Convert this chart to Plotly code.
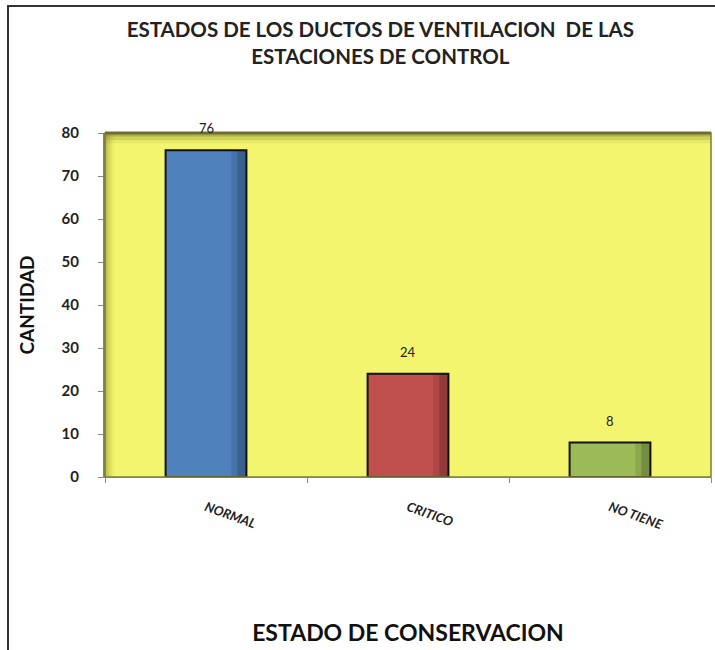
import plotly.graph_objects as go

categories = ["NORMAL", "CRITICO", "NO TIENE"]
values = [76, 24, 8]
bar_colors = ["#4F81BD", "#C0504D", "#9BBB59"]
y_ticks = [0, 10, 20, 30, 40, 50, 60, 70, 80]

FONT = "Lato, 'Open Sans', Arial, sans-serif"

fig = go.Figure()
fig.add_trace(go.Bar(
    x=categories, y=values,
    marker=dict(color=bar_colors, line=dict(width=0)),
    width=0.4, offset=-0.2,
    showlegend=False, hoverinfo="skip",
))
# right-side shading of each bar
fig.add_trace(go.Bar(
    x=categories, y=values, width=0.075, offset=0.125,
    marker=dict(color="rgba(0,0,0,0.10)", line=dict(width=0)),
    showlegend=False, hoverinfo="skip",
))
fig.add_trace(go.Bar(
    x=categories, y=values, width=0.045, offset=0.155,
    marker=dict(color="rgba(0,0,0,0.16)", line=dict(width=0)),
    showlegend=False, hoverinfo="skip",
))
# outline
fig.add_trace(go.Bar(
    x=categories, y=values, width=0.4, offset=-0.2,
    marker=dict(color="rgba(0,0,0,0)", line=dict(color="#111111", width=2)),
    showlegend=False,
))

for c, v in zip(categories, values):
    fig.add_annotation(x=c, y=v, text=str(v), showarrow=False, yshift=22,
                       font=dict(family=FONT, size=13, color="#222222"))

fig.update_layout(
    width=715, height=650,
    margin=dict(l=105, r=4, t=133, b=173, autoexpand=False),
    paper_bgcolor="white",
    plot_bgcolor="#F3F56E",
    font=dict(family=FONT, color="#222222"),
    title=dict(
        text="<b>ESTADOS DE LOS DUCTOS DE VENTILACION  DE LAS<br>ESTACIONES DE CONTROL</b>",
        x=0.532, xanchor="center", y=0.943, yanchor="top", yref="container",
        font=dict(family=FONT, size=20.5, color="#222222"),
    ),
    barmode="overlay",
)

fig.update_yaxes(
    range=[0, 80], tickvals=y_ticks, ticks="outside", ticklen=5, tickcolor="#888888",
    showgrid=False, zeroline=False, showline=True, linecolor="#8A8A40", linewidth=2,
    automargin=False, ticklabelstandoff=16,
    tickfont=dict(family=FONT, size=15, color="#222222", weight="bold"),
    title=dict(text="<b>CANTIDAD</b>", font=dict(family=FONT, size=19, color="#111111"), standoff=22),
)
fig.update_xaxes(
    ticks="outside", tickson="boundaries", ticklen=5, tickcolor="#888888",
    showline=True, linecolor="#999999", linewidth=1,
    tickangle=20, ticklabelstandoff=17, automargin=False,
    tickfont=dict(family=FONT, size=13, color="#222222", weight="bold", style="italic"),
    title=dict(text="<b>ESTADO DE CONSERVACION</b>", font=dict(family=FONT, size=23, color="#111111"), standoff=93),
)

# left darker gradient band of plot area
for i, a in enumerate([0.16, 0.11, 0.07, 0.04]):
    fig.add_shape(type="rect", xref="paper", yref="paper", x0=0, x1=(i + 1) * 0.004, y0=0, y1=1,
                  line=dict(width=0), fillcolor=f"rgba(90,90,20,{a})", layer="below")
for i, a in enumerate([0.25, 0.15, 0.08]):
    fig.add_shape(type="rect", xref="paper", yref="paper", x0=0, x1=1, y0=1 - (i + 1) * 0.01, y1=1,
                  line=dict(width=0), fillcolor=f"rgba(90,90,20,{a})", layer="below")
# plot area outline
fig.add_shape(type="rect", xref="paper", yref="paper", x0=0, x1=1, y0=0, y1=1,
              line=dict(color="#7E7E3A", width=1.5), fillcolor="rgba(0,0,0,0)", layer="above")
fig.add_shape(type="line", xref="paper", yref="paper", x0=0, x1=1, y0=1, y1=1,
              line=dict(color="#6E6E30", width=3), layer="above")
# outer frame
fig.add_shape(type="rect", xref="paper", yref="paper",
              x0=(8 - 105) / 606, x1=1.05, y0=-(650 - 477 + 10) / 344, y1=(477 - 6) / 344,
              line=dict(color="#333333", width=2), fillcolor="rgba(0,0,0,0)")

fig.write_html("out.html", config={"displayModeBar": False},
               post_script="document.body.style.margin='0px';")
